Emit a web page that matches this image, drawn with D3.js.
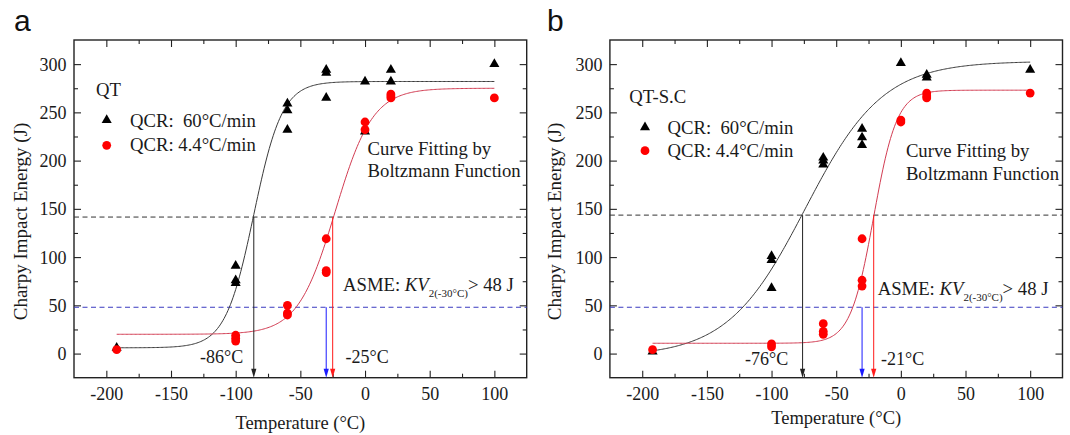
<!DOCTYPE html>
<html>
<head>
<meta charset="utf-8">
<script src="https://cdn.jsdelivr.net/npm/d3@7"></script>
<style>
  html, body { margin: 0; padding: 0; background: #fff; }
  svg { display: block; }
</style>
</head>
<body>
<svg id="chart" width="1070" height="435"></svg>
<script>
// ---- axis ranges and ticks ----
const tempDomain = [-225, 125];
const energyDomain = [-25, 325];
const tempTicks = [-200, -150, -100, -50, 0, 50, 100];
const tempMinorTicks = [-175, -125, -75, -25, 25, 75];
const energyTicks = [0, 50, 100, 150, 200, 250, 300];
const energyMinorTicks = [25, 75, 125, 175, 225, 275];

// ---- QT: measured Charpy energies (J) ----
const qtFastTemp   = [-192, -100, -100, -100, -60, -60, -60, -30, -30, -30, 0, 0, 20, 20, 100];
const qtFastEnergy = [6, 91, 76, 73, 259, 252, 232, 294, 291, 265, 282, 230, 294, 282, 300];
const qtSlowTemp   = [-192, -100, -100, -100, -60, -60, -60, -30, -30, -30, 0, 0, 20, 20, 20, 100];
const qtSlowEnergy = [4, 19, 16, 13, 50, 42, 40, 119, 86, 84, 240, 232, 269, 267, 265, 265];

// ---- QT-S.C: measured Charpy energies (J) ----
const scFastTemp   = [-192, -100, -100, -100, -60, -60, -60, -30, -30, -30, 0, 20, 20, 100];
const scFastEnergy = [2, 101, 97, 68, 203, 200, 196, 233, 224, 216, 301, 289, 286, 294];
const scSlowTemp   = [-192, -100, -100, -60, -60, -60, -30, -30, -30, 0, 0, 20, 20, 20, 100];
const scSlowEnergy = [4, 10, 7, 31, 23, 20, 119, 76, 70, 242, 240, 270, 267, 265, 270];

// ---- Boltzmann fit parameters [A1, A2, x0, dx] ----
const qtFastFit = [6, 282, -86, 11];
const qtSlowFit = [20, 275, -23, 14.5];
const scFastFit = [-3, 303, -74, 30];
const scSlowFit = [10.7, 273, -21, 9];
const fitRange = [-192, 100];

// ---- transition temperatures (°C) and reference energies (J) ----
const qtTransition = [-86, -25];
const scTransition = [-76, -21];
const qtHalfEnergy = 141.5;
const scHalfEnergy = 143.5;
const asmeTemp = -30;
const asmeEnergy = 48;

const boltzmann = (p, t) => p[1] + (p[0] - p[1]) / (1 + Math.exp((t - p[2]) / p[3]));

const SERIF = "'Liberation Serif', 'Times New Roman', Tinos, 'DejaVu Serif', serif";
const FONT = 18;
const NOTE = 18.7;
const INK = "#1a1a1a";

const svg = d3.select("#chart").attr("font-family", SERIF);

const panels = [
  {
    letter: "a", letterX: 14, group: "QT", groupPos: [96, 96],
    left: 74, right: 526.7, top: 40, bottom: 377.7,
    fast: { t: qtFastTemp, e: qtFastEnergy, fit: qtFastFit },
    slow: { t: qtSlowTemp, e: qtSlowEnergy, fit: qtSlowFit },
    half: qtHalfEnergy, trans: qtTransition,
    legendMarkerX: 106.7, legendTextX: 130, legendY: [120, 145.3], legendBase: [126.5, 151],
    fitText: [367.6, 155, 176.7],
    asmePos: [343, 290.5],
    transLabels: [[200, 363.3], [345.5, 362.5]],
    yTitle: [26.5, 221.5], xTitleY: 429
  },
  {
    letter: "b", letterX: 547, group: "QT-S.C", groupPos: [629.3, 103],
    left: 609.9, right: 1062.5, top: 40, bottom: 377.7,
    fast: { t: scFastTemp, e: scFastEnergy, fit: scFastFit },
    slow: { t: scSlowTemp, e: scSlowEnergy, fit: scSlowFit },
    half: scHalfEnergy, trans: scTransition,
    legendMarkerX: 645, legendTextX: 667.5, legendY: [127.3, 150.7], legendBase: [133.5, 157],
    fitText: [905.9, 157, 179.5],
    asmePos: [877.7, 295],
    transLabels: [[745, 365], [881, 365]],
    yTitle: [561, 221.5], xTitleY: 424
  }
];

const triangle = d3.symbol().type(d3.symbolTriangle).size(44);

// serif label helper
function label(g, x, y, str, size) {
  return g.append("text").attr("x", x).attr("y", y)
    .attr("font-family", SERIF).attr("font-size", size || FONT)
    .attr("fill", INK).attr("xml:space", "preserve").text(str);
}

function arrow(g, x, y0, y1, color) {
  g.append("line")
    .attr("x1", x).attr("x2", x).attr("y1", y0).attr("y2", y1 - 6)
    .attr("stroke", color).attr("stroke-width", 1);
  g.append("path")
    .attr("d", `M${x},${y1} L${x - 2.6},${y1 - 9} L${x + 2.6},${y1 - 9} Z`)
    .attr("fill", color);
}

const plain = d => String(d);

panels.forEach(p => {
  const x = d3.scaleLinear().domain(tempDomain).range([p.left, p.right]);
  const y = d3.scaleLinear().domain(energyDomain).range([p.bottom, p.top]);
  const g = svg.append("g");

  // panel letter
  g.append("text").attr("x", p.letterX).attr("y", 31)
    .attr("font-family", "'Liberation Sans', Arial, sans-serif")
    .attr("font-size", 30).attr("fill", "#111").text(p.letter);

  // axes: all ticks point into the frame
  const strip = sel => sel.select(".domain").remove();
  const styleLabels = sel => sel.attr("font-family", SERIF).attr("font-size", FONT)
    .selectAll("text").attr("fill", INK);

  g.append("g").attr("transform", `translate(0,${p.bottom})`)
    .call(d3.axisBottom(x).tickValues(tempTicks).tickSize(-7).tickFormat(plain))
    .call(strip).call(styleLabels)
    .selectAll("text").attr("y", 22.3).attr("dy", 0);
  g.append("g").attr("transform", `translate(0,${p.bottom})`)
    .call(d3.axisBottom(x).tickValues(tempMinorTicks).tickSize(-4).tickFormat("")).call(strip);
  g.append("g").attr("transform", `translate(0,${p.top})`)
    .call(d3.axisTop(x).tickValues(tempTicks).tickSize(-7).tickFormat("")).call(strip);
  g.append("g").attr("transform", `translate(0,${p.top})`)
    .call(d3.axisTop(x).tickValues(tempMinorTicks).tickSize(-4).tickFormat("")).call(strip);

  g.append("g").attr("transform", `translate(${p.left},0)`)
    .call(d3.axisLeft(y).tickValues(energyTicks).tickSize(-7).tickPadding(7.5).tickFormat(plain))
    .call(strip).call(styleLabels)
    .selectAll("text").attr("dy", "0.33em");
  g.append("g").attr("transform", `translate(${p.left},0)`)
    .call(d3.axisLeft(y).tickValues(energyMinorTicks).tickSize(-4).tickFormat("")).call(strip);
  g.append("g").attr("transform", `translate(${p.right},0)`)
    .call(d3.axisRight(y).tickValues(energyTicks).tickSize(-7).tickFormat("")).call(strip);
  g.append("g").attr("transform", `translate(${p.right},0)`)
    .call(d3.axisRight(y).tickValues(energyMinorTicks).tickSize(-4).tickFormat("")).call(strip);
  g.selectAll(".tick line").attr("stroke", "#222").attr("stroke-width", 1.1);

  // frame
  g.append("rect").attr("x", p.left).attr("y", p.top)
    .attr("width", p.right - p.left).attr("height", p.bottom - p.top)
    .attr("fill", "none").attr("stroke", "#222").attr("stroke-width", 1.4);

  // reference levels
  g.append("line").attr("x1", p.left).attr("x2", p.right)
    .attr("y1", y(p.half)).attr("y2", y(p.half))
    .attr("stroke", "#333").attr("stroke-width", 1).attr("stroke-dasharray", "5,3.5");
  g.append("line").attr("x1", p.left).attr("x2", p.right)
    .attr("y1", y(asmeEnergy)).attr("y2", y(asmeEnergy))
    .attr("stroke", "#3a3ac0").attr("stroke-width", 1).attr("stroke-dasharray", "5,3.5");

  // Boltzmann fit curves
  const ts = d3.range(fitRange[0], fitRange[1] + 0.5, 1);
  const line = d3.line().x(d => x(d[0])).y(d => y(d[1]));
  g.append("path").datum(ts.map(t => [t, boltzmann(p.fast.fit, t)]))
    .attr("d", line).attr("fill", "none").attr("stroke", "#3a3a3a").attr("stroke-width", 1);
  g.append("path").datum(ts.map(t => [t, boltzmann(p.slow.fit, t)]))
    .attr("d", line).attr("fill", "none").attr("stroke", "#d23c52").attr("stroke-width", 1);

  // transition arrows
  arrow(g, x(p.trans[0]), y(p.half), p.bottom, "#222");
  arrow(g, x(asmeTemp), y(asmeEnergy), p.bottom, "#1a1aff");
  arrow(g, x(p.trans[1]), y(p.half), p.bottom, "#ff1a1a");

  // measured points
  g.append("g").selectAll("path").data(p.fast.t.map((t, i) => [t, p.fast.e[i]]))
    .join("path").attr("d", triangle)
    .attr("transform", d => `translate(${x(d[0])},${y(d[1])})`).attr("fill", "#000");
  g.append("g").selectAll("circle").data(p.slow.t.map((t, i) => [t, p.slow.e[i]]))
    .join("circle").attr("cx", d => x(d[0])).attr("cy", d => y(d[1])).attr("r", 4.4)
    .attr("fill", "#ff0000");

  // legend
  label(g, p.groupPos[0], p.groupPos[1], p.group, NOTE);
  g.append("path").attr("d", triangle)
    .attr("transform", `translate(${p.legendMarkerX},${p.legendY[0]})`).attr("fill", "#000");
  g.append("circle").attr("cx", p.legendMarkerX).attr("cy", p.legendY[1]).attr("r", 4.4).attr("fill", "#ff0000");
  label(g, p.legendTextX, p.legendBase[0], "QCR:  60\u00b0C/min", NOTE);
  label(g, p.legendTextX, p.legendBase[1], "QCR: 4.4\u00b0C/min", NOTE);

  // fit note
  label(g, p.fitText[0], p.fitText[1], "Curve Fitting by", NOTE);
  label(g, p.fitText[0], p.fitText[2], "Boltzmann Function", NOTE);

  // ASME requirement
  const asme = label(g, p.asmePos[0], p.asmePos[1], "", NOTE);
  asme.append("tspan").text("ASME: ");
  asme.append("tspan").attr("font-style", "italic").text("KV");
  asme.append("tspan").attr("dy", 6).attr("font-size", 11).text("2(-30\u00b0C)");
  asme.append("tspan").attr("dy", -6).text("> 48 J");

  // transition temperature labels
  label(g, p.transLabels[0][0], p.transLabels[0][1], `${p.trans[0]}\u00b0C`);
  label(g, p.transLabels[1][0], p.transLabels[1][1], `${p.trans[1]}\u00b0C`);

  // axis titles
  label(g, (p.left + p.right) / 2, p.xTitleY, "Temperature (\u00b0C)", 18.5)
    .attr("text-anchor", "middle");
  label(g, 0, 0, "Charpy Impact Energy (J)", 19)
    .attr("transform", `translate(${p.yTitle[0]},${p.yTitle[1]}) rotate(-90)`)
    .attr("text-anchor", "middle");
});
</script>
</body>
</html>
